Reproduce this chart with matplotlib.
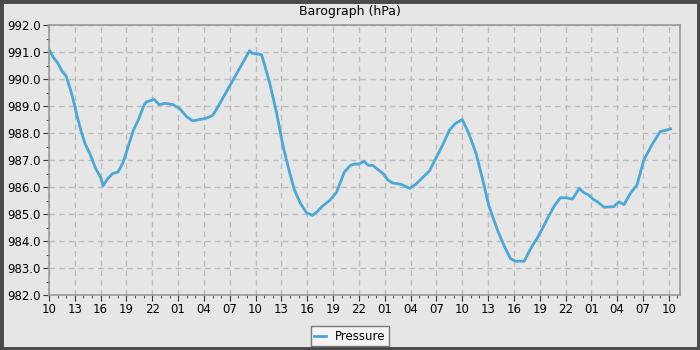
import matplotlib
matplotlib.use("Agg")
import matplotlib.pyplot as plt
from matplotlib.ticker import MultipleLocator, FuncFormatter
from matplotlib.patches import Rectangle

# hours since the first reading (first reading at 10:00)
hours = [0, 0.5, 1, 1.5, 2, 2.5, 3, 3.2, 3.7, 4.2, 4.8, 5.4, 6.0, 6.3, 6.8, 7.4, 8.0,
         8.6, 9.2, 9.8, 10.4, 11.0, 11.3, 11.8, 12.2, 12.8, 13.5, 14.4, 15.2, 16.0,
         16.7, 17.5, 18.3, 19.0, 19.5, 23.3, 23.6, 24.7, 25.6, 26.4,
         27.2, 27.9, 28.5, 29.2, 29.9, 30.6, 31.2, 31.8, 32.6, 33.4, 34.3, 35.0,
         35.5, 36.0, 36.6, 37.1, 37.6, 38.2, 38.8, 39.4, 39.9, 40.9, 41.9, 42.6,
         43.4, 44.2, 45.0, 45.8, 46.5, 47.2, 48.0, 48.6, 49.1, 49.6, 50.4, 51.1,
         52.1, 52.9, 53.6, 54.2, 55.2, 55.6, 56.1, 56.7, 57.3, 58.1, 58.7, 59.4,
         60.1, 60.8, 61.6, 62.1, 62.7, 63.2, 63.7, 64.5, 65.6, 66.2, 66.8, 67.6,
         68.3, 69.1, 70.1, 71.0, 71.6, 72.2]
pressure = [991.1, 990.8, 990.6, 990.3, 990.1, 989.6, 989.0, 988.7, 988.1, 987.6,
            987.2, 986.7, 986.35, 986.05, 986.3, 986.5, 986.55, 986.9, 987.5, 988.1,
            988.5, 989.0, 989.15, 989.2, 989.25, 989.05, 989.1, 989.05, 988.9, 988.6,
            988.45, 988.5, 988.55, 988.65, 988.9, 991.05, 990.95,
            990.9, 989.9, 988.8, 987.5, 986.6, 985.9, 985.4, 985.05, 984.95, 985.1,
            985.3, 985.5, 985.8, 986.55, 986.8, 986.85, 986.85, 986.95, 986.8, 986.8,
            986.65, 986.5, 986.25, 986.15, 986.1, 985.95, 986.1, 986.35, 986.6, 987.1,
            987.6, 988.1, 988.35, 988.5, 988.1, 987.7, 987.25, 986.25, 985.3, 984.4,
            983.8, 983.35, 983.25, 983.25, 983.5, 983.8, 984.1, 984.45, 984.95,
            985.3, 985.6, 985.6, 985.55, 985.95, 985.8, 985.7, 985.55, 985.45, 985.25,
            985.27, 985.45, 985.35, 985.8, 986.07, 987.0, 987.6, 988.05, 988.1, 988.15]

x_ticks_every = 3
start_hour = 10

fig = plt.figure(figsize=(7, 3.5), dpi=100, facecolor="#e6e6e6")
fig.patches.append(Rectangle((0, 0), 1, 1, transform=fig.transFigure, fill=False,
                             edgecolor="#4a4a4a", linewidth=5))

ax = fig.add_axes([49 / 700, 55 / 350, 631 / 700, 270 / 350])
ax.set_facecolor("#e6e6e6")
ax.plot(hours, pressure, color="#4aa8d8", linewidth=2.0, label="Pressure")

ax.set_xlim(0, 73.3)
ax.set_ylim(982, 992)
ax.xaxis.set_major_locator(MultipleLocator(x_ticks_every))
ax.xaxis.set_minor_locator(MultipleLocator(1))
ax.yaxis.set_major_locator(MultipleLocator(1))
ax.yaxis.set_minor_locator(MultipleLocator(0.5))
ax.xaxis.set_major_formatter(FuncFormatter(lambda v, p: "%02d" % ((start_hour + int(round(v))) % 24)))
ax.yaxis.set_major_formatter(FuncFormatter(lambda v, p: "%.1f" % v))
ax.tick_params(axis="both", which="major", length=4, color="#333333", labelsize=8.5, pad=2)
ax.tick_params(axis="both", which="minor", length=2, color="#333333")
ax.grid(True, which="major", linestyle=(0, (4, 3)), color="#bdbdbd", linewidth=1)
for s in ax.spines.values():
    s.set_color("#999999")
    s.set_linewidth(1.2)

fig.text(0.5, 1 - 12 / 350, "Barograph (hPa)", ha="center", va="center", fontsize=9)
fig.legend(loc="lower center", bbox_to_anchor=(0.5, 0.0), ncol=1, fontsize=8.5,
           frameon=True, fancybox=False, edgecolor="#777777", facecolor="#f4f4f4",
           framealpha=1, handlelength=1.0, borderpad=0.3, borderaxespad=0.3)

fig.savefig("out.png", dpi=100, facecolor=fig.get_facecolor())
